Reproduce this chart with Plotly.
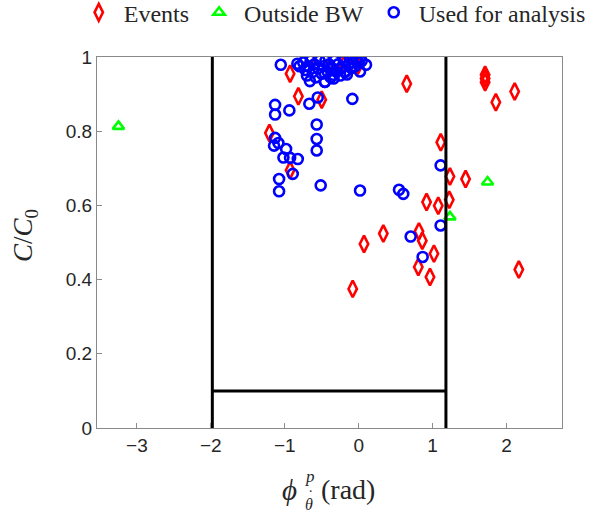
import plotly.graph_objects as go

# ---- data ----
events_x = [0.65, 1.11, 1.71, 1.71, 1.71, 1.855, 2.11, 1.234, 1.446, 1.225, 0.918, 1.076,
            0.333, 0.072, 0.815, 0.86, 1.018, 0.806, 0.964, 2.166, -0.081, -0.928, -1.208,
            -0.928, -0.816, -0.5, -0.14, -0.01, -0.66, -0.4, -0.2]
events_y = [0.928, 0.77, 0.952, 0.942, 0.932, 0.878, 0.907, 0.678, 0.671, 0.615, 0.609, 0.599,
            0.524, 0.496, 0.530, 0.505, 0.470, 0.434, 0.407, 0.427, 0.375, 0.695, 0.795,
            0.955, 0.894, 0.885, 1.0, 0.977, 0.998, 0.97, 0.98]

outside_x = [-3.25, 1.743, 1.234]
outside_y = [0.813, 0.663, 0.569]

used_x = [-1.054, -0.83, -0.455, -0.668, -0.554, -0.086, -1.131, -1.131, -0.938,
          -0.568, -0.568, -0.568, -1.131, -1.145, -1.086, -0.982, -1.018, -0.928, -0.824,
          -0.892, -1.077, -1.077, -0.514, 0.018, 0.545, 0.603, 1.108, 1.108, 0.703, 0.865,
          0.099, 0.018,
          -0.80, -0.75, -0.72, -0.70, -0.68, -0.66, -0.65, -0.62, -0.60, -0.58, -0.55, -0.53,
          -0.50, -0.48, -0.46, -0.45, -0.42, -0.40, -0.38, -0.36, -0.34, -0.33, -0.30, -0.28,
          -0.25, -0.23, -0.20, -0.18, -0.16, -0.14, -0.12, -0.10, -0.08, -0.05, -0.03, 0.0,
          0.04, 0.02, -0.185, -0.343]
used_y = [0.979, 0.982, 0.933, 0.874, 0.891, 0.887, 0.871, 0.845, 0.856,
          0.818, 0.779, 0.748, 0.782, 0.761, 0.768, 0.752, 0.729, 0.728, 0.725,
          0.685, 0.671, 0.638, 0.654, 0.640, 0.642, 0.631, 0.708, 0.546, 0.516, 0.461,
          0.979, 0.961,
          0.975, 0.985, 0.965, 0.95, 0.975, 0.935, 0.99, 0.96, 0.98, 0.945, 0.97, 0.99,
          0.955, 0.975, 0.933, 0.99, 0.96, 0.98, 0.945, 0.97, 0.942, 0.99, 0.96, 0.98,
          0.95, 0.97, 0.99, 0.96, 0.953, 0.98, 0.995, 0.97, 0.985, 0.975, 0.995, 0.985,
          0.989, 1.0, 0.961, 0.952]

# boundary lines
left_bound = -1.98
right_bound = 1.18
lower_bound = 0.1

x_ticks = [-3, -2, -1, 0, 1, 2]
y_ticks = [0, 0.2, 0.4, 0.6, 0.8, 1]
y_ticklabels = ["0", "0.2", "0.4", "0.6", "0.8", "1"]

SERIF = "Liberation Serif, DejaVu Serif, serif"

fig = go.Figure()
fig.add_trace(go.Scatter(x=events_x, y=events_y, mode="markers", name="Events",
                         marker=dict(symbol="diamond-tall-open", size=12, color="#FF0000",
                                     line=dict(width=2.6, color="#FF0000"))))
fig.add_trace(go.Scatter(x=outside_x, y=outside_y, mode="markers", name="Outside BW",
                         marker=dict(symbol="triangle-up-open", size=10, color="#00FF00",
                                     line=dict(width=2.6, color="#00FF00"))))
fig.add_trace(go.Scatter(x=used_x, y=used_y, mode="markers", name="Used for analysis",
                         marker=dict(symbol="circle-open", size=10, color="#0000FF",
                                     line=dict(width=2.6, color="#0000FF"))))

line_style = dict(color="black", width=3)
fig.add_trace(go.Scatter(x=[left_bound, left_bound], y=[0, 1], mode="lines",
                         line=line_style, showlegend=False, hoverinfo="skip"))
fig.add_trace(go.Scatter(x=[right_bound, right_bound], y=[0, 1], mode="lines",
                         line=line_style, showlegend=False, hoverinfo="skip"))
fig.add_trace(go.Scatter(x=[left_bound, right_bound], y=[lower_bound, lower_bound], mode="lines",
                         line=line_style, showlegend=False, hoverinfo="skip"))

axis_common = dict(showgrid=False, zeroline=False, showline=True, mirror=True,
                   linecolor="#8a8a8a", linewidth=1, ticks="inside", ticklen=5,
                   tickcolor="#8a8a8a",
                   tickfont=dict(family="Liberation Sans, Arial", size=19, color="#262626"))

fig.update_layout(
    width=600, height=513,
    paper_bgcolor="white", plot_bgcolor="white",
    margin=dict(l=97, r=38, t=57, b=85, autoexpand=False),
    xaxis=dict(range=[-3.54, 2.75], tickvals=x_ticks, automargin=False, **axis_common),
    yaxis=dict(range=[0, 1], tickvals=y_ticks, ticktext=y_ticklabels, automargin=False,
               **axis_common),
    legend=dict(orientation="h", x=-0.05, xanchor="left", y=1.18, yanchor="top",
                font=dict(family=SERIF, size=24, color="#262626"),
                bgcolor="rgba(0,0,0,0)", itemwidth=40, tracegroupgap=0),
    showlegend=True,
)

# axis titles as annotations (serif, math-like)
fig.add_annotation(text="<i>C</i>/<i>C</i><sub>0</sub>", xref="paper", yref="paper",
                   x=-0.155, y=0.52, xanchor="center", yanchor="middle", textangle=-90,
                   showarrow=False, font=dict(family=SERIF, size=27, color="#262626"))
fig.add_annotation(text="<i>ϕ</i>", xref="paper", yref="paper", x=0.415, y=-0.167,
                   xanchor="center", yanchor="middle", showarrow=False,
                   font=dict(family=SERIF, size=29, color="#262626"))
fig.add_annotation(text="<i>p</i>", xref="paper", yref="paper", x=0.458, y=-0.132,
                   xanchor="center", yanchor="middle", showarrow=False,
                   font=dict(family=SERIF, size=17, color="#262626"))
fig.add_annotation(text="<i>θ</i>", xref="paper", yref="paper", x=0.456, y=-0.207,
                   xanchor="center", yanchor="middle", showarrow=False,
                   font=dict(family=SERIF, size=16, color="#262626"))
fig.add_annotation(text="˙", xref="paper", yref="paper", x=0.459, y=-0.182,
                   xanchor="center", yanchor="middle", showarrow=False,
                   font=dict(family=SERIF, size=16, color="#262626"))
fig.add_annotation(text="(rad)", xref="paper", yref="paper", x=0.477, y=-0.167,
                   xanchor="left", yanchor="middle", showarrow=False,
                   font=dict(family=SERIF, size=28, color="#262626"))

fig.write_html("out.html", config={"displayModeBar": False})

# remove the default browser body margin so the figure sits at the page origin
with open("out.html", "r", encoding="utf-8") as f:
    html = f.read()
html = html.replace("<head>", "<head><style>html,body{margin:0;padding:0;}</style>", 1)
with open("out.html", "w", encoding="utf-8") as f:
    f.write(html)
